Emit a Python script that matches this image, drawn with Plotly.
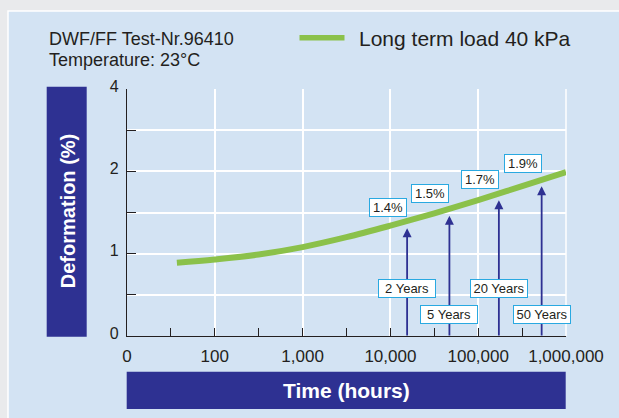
import math
import plotly.graph_objects as go

# ---------------- data ----------------
hours = [37, 100, 316, 1000, 3162, 10000, 31623, 100000, 316228, 1000000]
deformation = [0.89, 0.93, 0.99, 1.08, 1.20, 1.34, 1.49, 1.65, 1.82, 1.99]
series_name = "Long term load 40 kPa"

x_tick_vals = [10, 100, 1000, 10000, 100000, 1000000]
x_tick_text = ["0", "100", "1,000", "10,000", "100,000", "1,000,000"]
x_minor_vals = [31.6, 316, 3162, 31623, 316228]
# the y axis labels 0,1,2,4 are equally spaced (upper section compressed)
y_tick_vals = [0, 1, 2, 3]
y_tick_text = ["0", "1", "2", "4"]
y_minor_vals = [0.5, 1.5, 2.5]

arrow_hours = [15500, 47000, 172000, 528000]
arrow_tips = [1.31, 1.46, 1.65, 1.82]
year_labels = ["2 Years", "5 Years", "20 Years", "50 Years"]
value_labels = ["1.4%", "1.5%", "1.7%", "1.9%"]

header_lines = ["DWF/FF Test-Nr.96410", "Temperature: 23°C"]
y_title = "Deformation (%)"
x_title = "Time (hours)"

# ---------------- style ----------------
NAVY = "#2e3192"
GREEN = "#8bc14a"
PANEL = "#d3e3f3"
OUTER = "#e9eaec"
CYAN = "#29a9e1"
INK = "#231f20"
FONT = "Liberation Sans, Arial, Helvetica, sans-serif"

W_FIG, H_FIG = 619, 418
L, T, R, B = 127, 89, 53, 82
PW, PH = W_FIG - L - R, H_FIG - T - B


def fx(px):
    return (px - L) / PW


def fy(py):
    return (T + PH - py) / PH


fig = go.Figure()
fig.add_trace(go.Scatter(
    x=hours, y=deformation, mode="lines", name=series_name,
    line=dict(color=GREEN, width=6, shape="spline"), showlegend=False,
    hoverinfo="skip",
))

shapes = [
    # light-blue panel
    dict(type="rect", xref="paper", yref="paper", x0=fx(8), x1=fx(640),
         y0=fy(440), y1=fy(11), fillcolor=PANEL, line=dict(color="white", width=1.5),
         layer="below"),
    # white grid line on the right edge of the plot
    dict(type="line", xref="paper", yref="paper", x0=1, x1=1, y0=0, y1=1,
         line=dict(color="white", width=1.5), layer="below"),
    # y title box
    dict(type="rect", xref="paper", yref="paper", x0=fx(46.7), x1=fx(86.7),
         y0=fy(336.7), y1=fy(86.7), fillcolor=NAVY, line=dict(width=0)),
    # x title box
    dict(type="rect", xref="paper", yref="paper", x0=fx(126.7), x1=fx(565.7),
         y0=fy(409), y1=fy(371.7), fillcolor=NAVY, line=dict(width=0)),
    # legend sample line
    dict(type="line", xref="paper", yref="paper", x0=fx(299.5), x1=fx(344.5),
         y0=fy(37.8), y1=fy(37.8), line=dict(color=GREEN, width=5.5)),
]

annotations = [
    dict(text=header_lines[0], xref="paper", yref="paper", x=fx(47), y=fy(39),
         xanchor="left", yanchor="middle", showarrow=False,
         font=dict(family=FONT, size=18, color=INK)),
    dict(text=header_lines[1], xref="paper", yref="paper", x=fx(47), y=fy(60.5),
         xanchor="left", yanchor="middle", showarrow=False,
         font=dict(family=FONT, size=18, color=INK)),
    dict(text=series_name, xref="paper", yref="paper", x=fx(357), y=fy(38.5),
         xanchor="left", yanchor="middle", showarrow=False,
         font=dict(family=FONT, size=21, color=INK)),
    dict(text="<b>%s</b>" % y_title, xref="paper", yref="paper", x=fx(67.5), y=fy(211.7),
         xanchor="center", yanchor="middle", textangle=-90, showarrow=False,
         font=dict(family=FONT, size=20, color="white")),
    dict(text="<b>%s</b>" % x_title, xref="paper", yref="paper", x=fx(346), y=fy(390),
         xanchor="center", yanchor="middle", showarrow=False,
         font=dict(family=FONT, size=21, color="white")),
]

# arrows from the time axis up to the curve
for h, tip in zip(arrow_hours, arrow_tips):
    lx = math.log10(h)
    annotations.append(dict(
        text="", x=lx, y=tip, ax=lx, ay=0, xref="x", yref="y", axref="x", ayref="y",
        showarrow=True, arrowhead=2, arrowsize=1, arrowwidth=1.8, arrowcolor=NAVY,
        font=dict(size=1), borderpad=0,
    ))

year_box_y = [0.58, 0.26, 0.58, 0.26]
value_box_y = [1.566, 1.732, 1.906, 2.091]
for h, lab, yb in zip(arrow_hours, year_labels, year_box_y):
    annotations.append(dict(
        text=lab, x=math.log10(h), y=yb, xref="x", yref="y", xanchor="center",
        yanchor="middle", showarrow=False, bgcolor="white", bordercolor=CYAN,
        borderwidth=1, borderpad=1, width=54, height=15,
        font=dict(family=FONT, size=13, color=INK)))
for h, lab, yb in zip(arrow_hours, value_labels, value_box_y):
    annotations.append(dict(
        text=lab, x=math.log10(h), y=yb, xref="x", yref="y", xanchor="right",
        yanchor="middle", showarrow=False, bgcolor="white", bordercolor=CYAN,
        borderwidth=1, borderpad=1, width=34, height=15,
        font=dict(family=FONT, size=13, color=INK)))

fig.update_layout(
    width=W_FIG, height=H_FIG,
    margin=dict(l=L, r=R, t=T, b=B),
    paper_bgcolor=OUTER, plot_bgcolor=PANEL,
    font=dict(family=FONT, color=INK),
    shapes=shapes, annotations=annotations,
    showlegend=False,
)
fig.update_xaxes(
    type="log", range=[1, 6], tickmode="array", tickvals=x_tick_vals, ticktext=x_tick_text,
    ticks="inside", ticklen=8, tickwidth=1.2, tickcolor=INK,
    showline=True, linecolor=INK, linewidth=1.2,
    showgrid=True, gridcolor="white", gridwidth=1.5, zeroline=False,
    tickfont=dict(family=FONT, size=17, color=INK), ticklabelstandoff=4,
    minor=dict(tickmode="array", tickvals=x_minor_vals, ticks="inside", ticklen=8,
               tickwidth=1.2, tickcolor=INK, showgrid=False),
)
fig.update_yaxes(
    range=[0, 3], tickmode="array", tickvals=y_tick_vals, ticktext=y_tick_text,
    ticks="inside", ticklen=9, tickwidth=1.2, tickcolor=INK,
    showline=True, linecolor=INK, linewidth=1.2,
    showgrid=True, gridcolor="white", gridwidth=1.5, zeroline=False,
    tickfont=dict(family=FONT, size=16, color=INK), ticklabelstandoff=4,
    ticklabelshift=-3,
    minor=dict(tickmode="array", tickvals=y_minor_vals, ticks="inside", ticklen=9,
               tickwidth=1.2, tickcolor=INK, showgrid=True, gridcolor="white",
               gridwidth=1.5),
)

fig.write_html("out.html", config={"displayModeBar": False},
               post_script="document.body.style.margin='0px';")
